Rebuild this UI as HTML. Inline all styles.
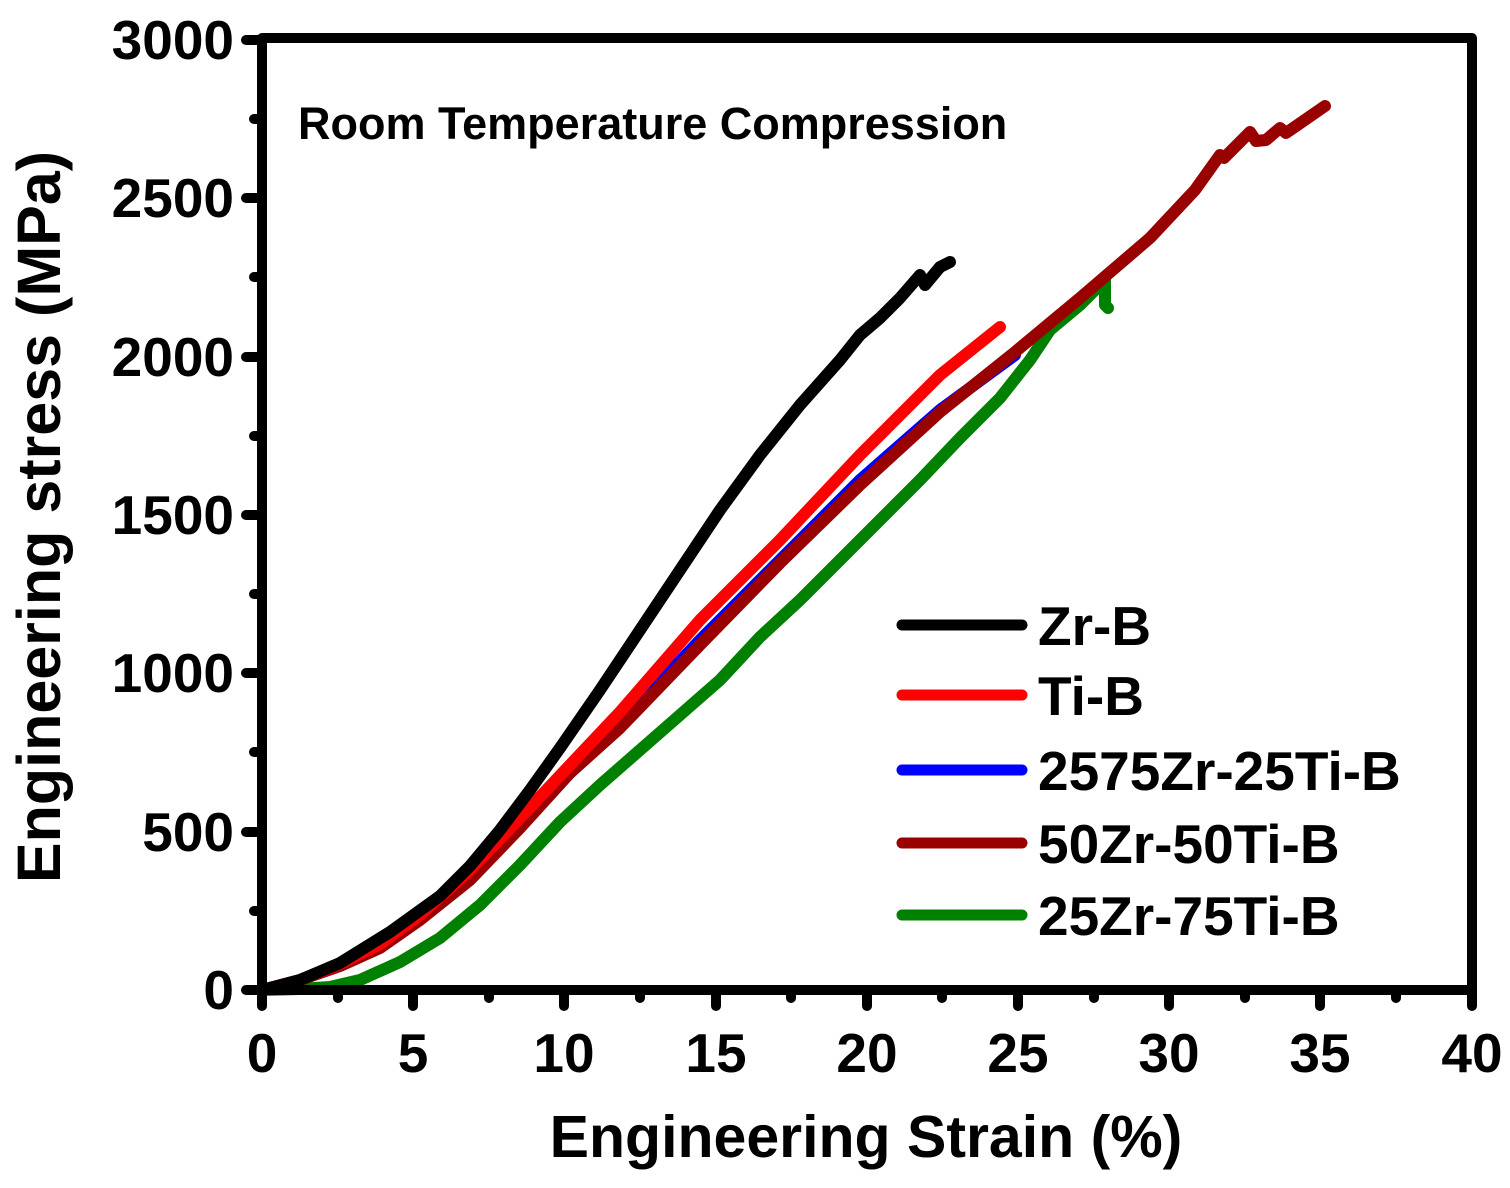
<!DOCTYPE html>
<html><head><style>html,body{margin:0;padding:0;background:#fff}</style></head>
<body>
<svg width="1510" height="1183" viewBox="0 0 1510 1183" xmlns="http://www.w3.org/2000/svg" font-family="Liberation Sans, sans-serif" font-weight="bold">
<rect width="1510" height="1183" fill="#fff"/>
<g fill="none" stroke-linecap="round" stroke-linejoin="round" stroke-width="12">
<polyline stroke="#008000" points="262,990 300,989 330,987 360,980 400,962 440,938 480,905 520,865 560,822 600,785 640,750 680,715 720,680 760,637 800,600 840,560 880,520 920,480 960,438 1000,398 1030,360 1050,330 1080,305 1100,285 1105,278 1105,305 1108,308"/>
<polyline stroke="#0000ff" points="262,990 300,980 340,964 380,944 420,915 470,875 520,825 570,770 620,725 700,640 780,560 860,480 940,410 1015,355"/>
<polyline stroke="#990000" points="262,990 300,980 340,966 380,948 420,920 470,880 520,828 570,773 620,728 700,645 780,563 860,485 940,412 1015,352 1080,298 1150,238 1195,190 1220,155 1224,158 1250,132 1256,141 1266,140 1280,128 1286,133 1325,106"/>
<polyline stroke="#ff0000" points="262,990 300,980 340,964 380,944 420,915 470,870 520,818 570,765 620,712 700,620 780,540 860,455 940,375 1000,327"/>
<polyline stroke="#000" points="262,990 300,980 340,963 390,932 440,896 470,866 500,830 530,790 560,748 600,690 640,630 680,570 720,510 760,455 800,405 840,360 860,335 880,318 900,298 920,275 925,285 940,267 950,262"/>
</g>
<g stroke="#000" stroke-width="10" stroke-linecap="round" fill="none">
<rect x="262" y="38" width="1210" height="952" stroke-linejoin="round"/>
<path d="M262,990v16 M413,990v16 M564,990v16 M716,990v16 M867,990v16 M1018,990v16 M1169,990v16 M1320,990v16 M1472,990v16
M338,990v8 M489,990v8 M640,990v8 M791,990v8 M942,990v8 M1094,990v8 M1245,990v8 M1396,990v8
M262,990h-16 M262,832h-16 M262,673h-16 M262,515h-16 M262,357h-16 M262,198h-16 M262,40h-16
M262,911h-8 M262,752h-8 M262,594h-8 M262,436h-8 M262,277h-8 M262,119h-8"/>
</g>
<g font-size="55" text-anchor="end">
<text x="234" y="1009">0</text><text x="234" y="851">500</text><text x="234" y="692">1000</text>
<text x="234" y="534">1500</text><text x="234" y="376">2000</text><text x="234" y="217">2500</text><text x="234" y="59">3000</text>
</g>
<g font-size="55" text-anchor="middle">
<text x="262" y="1072">0</text><text x="413" y="1072">5</text><text x="564" y="1072">10</text><text x="716" y="1072">15</text>
<text x="867" y="1072">20</text><text x="1018" y="1072">25</text><text x="1169" y="1072">30</text><text x="1320" y="1072">35</text><text x="1472" y="1072">40</text>
</g>
<text x="866" y="1157" font-size="59" text-anchor="middle">Engineering Strain (%)</text>
<text transform="translate(60,517) rotate(-90)" font-size="61" text-anchor="middle">Engineering stress (MPa)</text>
<text x="298" y="139" font-size="45">Room Temperature Compression</text>
<g stroke-width="11" stroke-linecap="round">
<line x1="902" y1="625" x2="1022" y2="625" stroke="#000"/>
<line x1="902" y1="695" x2="1022" y2="695" stroke="#ff0000"/>
<line x1="902" y1="770" x2="1022" y2="770" stroke="#0000ff"/>
<line x1="902" y1="843" x2="1022" y2="843" stroke="#990000"/>
<line x1="902" y1="915" x2="1022" y2="915" stroke="#008000"/>
</g>
<g font-size="55">
<text x="1038" y="645">Zr-B</text><text x="1038" y="715">Ti-B</text><text x="1038" y="790">2575Zr-25Ti-B</text>
<text x="1038" y="863">50Zr-50Ti-B</text><text x="1038" y="935">25Zr-75Ti-B</text>
</g>
</svg>
</body></html>
